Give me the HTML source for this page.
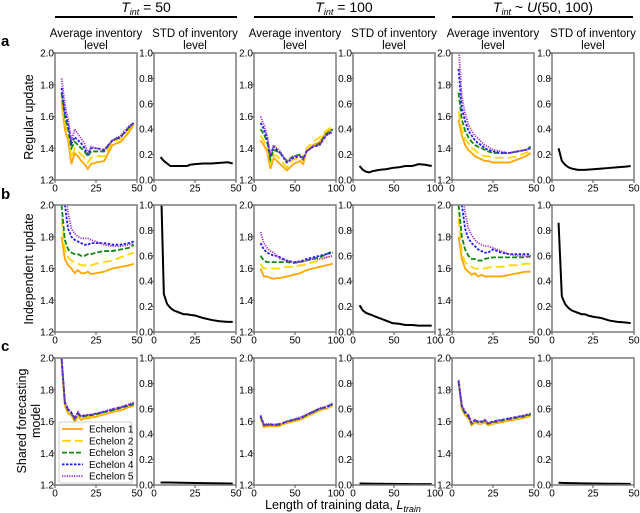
<!DOCTYPE html>
<html><head><meta charset="utf-8"><style>
body{margin:0;background:#fff;}
svg{display:block;font-family:"Liberation Sans",Arial,sans-serif;}
</style></head><body>
<svg id="fig" width="640" height="513" viewBox="0 0 640 513" xmlns="http://www.w3.org/2000/svg">
<g font-size="14" text-anchor="middle">
<text x="146" y="12"><tspan font-style="italic">T</tspan><tspan font-style="italic" font-size="9" dy="3">int</tspan><tspan dy="-3"> = 50</tspan></text>
<line x1="55" y1="17" x2="237" y2="17" stroke="#000" stroke-width="2"/>
<text x="344" y="12"><tspan font-style="italic">T</tspan><tspan font-style="italic" font-size="9" dy="3">int</tspan><tspan dy="-3"> = 100</tspan></text>
<line x1="254" y1="17" x2="435" y2="17" stroke="#000" stroke-width="2"/>
<text x="543" y="12"><tspan font-style="italic">T</tspan><tspan font-style="italic" font-size="9" dy="3">int</tspan><tspan dy="-3"> ~ </tspan><tspan font-style="italic">U</tspan><tspan>(50, 100)</tspan></text>
<line x1="452" y1="17" x2="633" y2="17" stroke="#000" stroke-width="2"/>
</g>
<g font-weight="bold" font-size="15">
<text x="1" y="46">a</text>
<text x="1" y="199">b</text>
<text x="1" y="351">c</text>
</g>
<g font-size="12.5" text-anchor="middle">
<text transform="translate(33,117) rotate(-90)">Regular update</text>
<text transform="translate(33,269) rotate(-90)">Independent update</text>
<text transform="translate(26,421) rotate(-90)">Shared forecasting</text>
<text transform="translate(40,421) rotate(-90)">model</text>
<text x="343" y="509">Length of training data, <tspan font-style="italic">L</tspan><tspan font-style="italic" font-size="9" dy="3">train</tspan></text>
</g>
<g id="panels"></g>
</svg>
<script>
const xs50 = [4,6,8,10,12,14,16,18,20,22,25,30,35,40,45,48];
const xs100 = [8,12,16,20,24,28,32,40,48,56,60,64,72,80,88,96];
const seriesNames = ["Echelon 1","Echelon 2","Echelon 3","Echelon 4","Echelon 5"];
const xTicks50 = [0,25,50];
const xTicks100 = [0,50,100];
const yTicksAvg = [1.2,1.4,1.6,1.8,2.0];
const yTicksStd = [0.0,0.2,0.4,0.6,0.8,1.0];
// Row a
const a1 = [
[1.70,1.52,1.45,1.30,1.37,1.35,1.32,1.30,1.27,1.30,1.31,1.32,1.42,1.44,1.50,1.55],
[1.73,1.56,1.49,1.34,1.40,1.38,1.36,1.34,1.31,1.34,1.35,1.35,1.44,1.46,1.52,1.56],
[1.75,1.60,1.52,1.40,1.44,1.42,1.40,1.38,1.35,1.38,1.38,1.38,1.45,1.47,1.53,1.56],
[1.78,1.63,1.55,1.43,1.47,1.45,1.43,1.40,1.36,1.40,1.40,1.39,1.45,1.47,1.53,1.56],
[1.84,1.68,1.58,1.45,1.52,1.49,1.46,1.43,1.37,1.41,1.40,1.39,1.45,1.48,1.54,1.56]];
const a2 = [0.18,0.15,0.13,0.11,0.11,0.11,0.11,0.11,0.11,0.12,0.125,0.13,0.13,0.135,0.14,0.13];
const a3 = [
[1.45,1.42,1.38,1.27,1.34,1.32,1.30,1.26,1.30,1.32,1.30,1.38,1.42,1.44,1.50,1.52],
[1.48,1.45,1.40,1.30,1.36,1.35,1.33,1.28,1.33,1.34,1.32,1.40,1.44,1.47,1.51,1.54],
[1.52,1.49,1.44,1.33,1.39,1.38,1.37,1.32,1.35,1.36,1.34,1.38,1.41,1.43,1.49,1.52],
[1.56,1.52,1.46,1.35,1.41,1.39,1.37,1.31,1.34,1.35,1.33,1.38,1.41,1.42,1.48,1.51],
[1.60,1.55,1.48,1.36,1.42,1.40,1.38,1.31,1.35,1.35,1.33,1.38,1.41,1.42,1.48,1.50]];
const a4 = [0.11,0.08,0.065,0.06,0.07,0.075,0.08,0.085,0.095,0.10,0.105,0.11,0.11,0.125,0.12,0.11];
const a5 = [
[1.58,1.48,1.42,1.39,1.37,1.35,1.34,1.33,1.32,1.32,1.31,1.31,1.31,1.33,1.35,1.37],
[1.63,1.52,1.46,1.43,1.40,1.39,1.37,1.36,1.35,1.35,1.34,1.34,1.34,1.35,1.37,1.39],
[1.75,1.58,1.51,1.47,1.44,1.42,1.41,1.40,1.39,1.38,1.37,1.37,1.37,1.38,1.39,1.41],
[1.90,1.65,1.57,1.51,1.48,1.45,1.43,1.42,1.40,1.39,1.38,1.37,1.37,1.38,1.39,1.40],
[2.05,1.72,1.62,1.55,1.51,1.48,1.46,1.44,1.42,1.41,1.39,1.38,1.37,1.38,1.39,1.40]];
const a6 = [0.25,0.15,0.12,0.10,0.09,0.085,0.08,0.08,0.08,0.082,0.085,0.09,0.095,0.10,0.105,0.11];
// Row b
const b1 = [
[1.80,1.66,1.62,1.60,1.57,1.59,1.57,1.57,1.58,1.565,1.57,1.58,1.60,1.61,1.62,1.63],
[1.92,1.72,1.67,1.65,1.64,1.63,1.62,1.62,1.62,1.62,1.63,1.64,1.65,1.67,1.69,1.70],
[2.00,1.78,1.72,1.70,1.69,1.69,1.68,1.68,1.69,1.69,1.70,1.71,1.71,1.72,1.73,1.75],
[2.10,2.00,1.85,1.80,1.78,1.77,1.76,1.75,1.75,1.76,1.76,1.76,1.75,1.75,1.76,1.77],
[2.20,2.10,1.95,1.85,1.82,1.80,1.79,1.79,1.79,1.78,1.77,1.75,1.74,1.74,1.75,1.76]];
const b2 = [1.30,0.30,0.22,0.19,0.17,0.16,0.15,0.14,0.14,0.135,0.13,0.11,0.095,0.085,0.08,0.08];
const b3 = [
[1.60,1.55,1.55,1.54,1.535,1.54,1.54,1.55,1.56,1.57,1.58,1.59,1.60,1.61,1.62,1.63],
[1.63,1.60,1.60,1.60,1.60,1.60,1.60,1.61,1.61,1.62,1.62,1.63,1.64,1.65,1.67,1.68],
[1.68,1.65,1.64,1.64,1.64,1.64,1.64,1.64,1.635,1.64,1.645,1.65,1.66,1.67,1.69,1.71],
[1.76,1.72,1.70,1.69,1.68,1.68,1.67,1.65,1.64,1.645,1.65,1.66,1.67,1.68,1.69,1.70],
[1.83,1.76,1.73,1.71,1.70,1.68,1.66,1.65,1.64,1.64,1.645,1.65,1.66,1.66,1.67,1.68]];
const b4 = [0.21,0.17,0.15,0.14,0.13,0.12,0.11,0.09,0.07,0.065,0.06,0.055,0.055,0.05,0.05,0.05];
const b5 = [
[1.80,1.66,1.60,1.58,1.56,1.57,1.55,1.56,1.55,1.55,1.55,1.55,1.56,1.57,1.58,1.58],
[1.92,1.70,1.64,1.62,1.61,1.60,1.60,1.60,1.60,1.605,1.61,1.61,1.62,1.62,1.63,1.63],
[2.00,1.80,1.72,1.68,1.66,1.66,1.65,1.65,1.66,1.665,1.67,1.67,1.67,1.67,1.67,1.68],
[2.10,2.00,1.85,1.79,1.76,1.74,1.72,1.71,1.70,1.70,1.72,1.70,1.69,1.69,1.69,1.69],
[2.20,2.10,1.95,1.85,1.81,1.78,1.76,1.75,1.74,1.74,1.73,1.71,1.69,1.68,1.68,1.67]];
const b6 = [0.86,0.28,0.22,0.19,0.17,0.16,0.15,0.14,0.14,0.13,0.12,0.11,0.09,0.08,0.075,0.07];
// Row c
const c1 = [
[1.98,1.70,1.65,1.64,1.60,1.63,1.61,1.62,1.62,1.625,1.63,1.645,1.66,1.67,1.69,1.70],
[1.99,1.71,1.66,1.645,1.61,1.64,1.62,1.63,1.63,1.63,1.64,1.65,1.665,1.68,1.70,1.71],
[2.00,1.72,1.67,1.65,1.615,1.65,1.625,1.635,1.635,1.64,1.645,1.66,1.67,1.685,1.70,1.71],
[2.00,1.72,1.675,1.655,1.62,1.655,1.63,1.64,1.64,1.64,1.65,1.66,1.675,1.69,1.705,1.715],
[2.00,1.73,1.68,1.66,1.62,1.66,1.63,1.64,1.64,1.645,1.65,1.665,1.68,1.69,1.71,1.72]];
const c2 = [0.02,0.02,0.02,0.02,0.019,0.019,0.018,0.018,0.017,0.017,0.016,0.015,0.014,0.013,0.012,0.011];
const c3 = [
[1.62,1.565,1.57,1.57,1.57,1.57,1.575,1.59,1.60,1.61,1.62,1.63,1.65,1.67,1.68,1.70],
[1.625,1.57,1.575,1.575,1.575,1.575,1.58,1.595,1.605,1.615,1.625,1.635,1.655,1.675,1.685,1.705],
[1.63,1.575,1.58,1.58,1.58,1.58,1.58,1.60,1.61,1.62,1.63,1.64,1.66,1.68,1.69,1.71],
[1.635,1.58,1.58,1.58,1.58,1.58,1.585,1.60,1.61,1.62,1.63,1.64,1.66,1.68,1.69,1.71],
[1.64,1.58,1.585,1.585,1.58,1.585,1.585,1.60,1.615,1.625,1.635,1.645,1.665,1.685,1.695,1.715]];
const c4 = [0.012,0.012,0.011,0.011,0.010,0.010,0.010,0.009,0.009,0.008,0.008,0.008,0.007,0.007,0.007,0.007];
const c5 = [
[1.84,1.68,1.64,1.62,1.575,1.595,1.585,1.585,1.595,1.575,1.585,1.595,1.605,1.615,1.625,1.635],
[1.85,1.69,1.65,1.63,1.58,1.60,1.59,1.59,1.60,1.58,1.59,1.60,1.61,1.62,1.63,1.64],
[1.85,1.69,1.65,1.63,1.585,1.605,1.595,1.595,1.605,1.585,1.595,1.605,1.615,1.625,1.635,1.645],
[1.86,1.70,1.66,1.64,1.59,1.61,1.60,1.60,1.61,1.59,1.60,1.61,1.62,1.63,1.64,1.65],
[1.86,1.70,1.66,1.64,1.59,1.61,1.60,1.60,1.61,1.59,1.60,1.61,1.62,1.63,1.64,1.65]];
const c6 = [0.018,0.017,0.016,0.015,0.015,0.014,0.014,0.013,0.013,0.012,0.012,0.011,0.010,0.010,0.009,0.009];

const NS = "http://www.w3.org/2000/svg";
const colors = ["#FFA500","#FFD700","#118811","#1A1AFF","#9B30C8"];
const dashes = ["","9,4","5,2","2.5,1.5","1.2,1.2"];
const colX = [55,154,254,353,452,552];
const rowY = [53,205,358];
const PW = 82, PH = 127;
const root = document.getElementById('panels');
function mk(tag, attrs, parent){const e=document.createElementNS(NS,tag);for(const k in attrs)e.setAttribute(k,attrs[k]);(parent||root).appendChild(e);return e;}

function panel(ci, ri, xs, xmax, xt, yt, ymin, ymax, data, isStd, name){
  const x0=colX[ci], y0=rowY[ri];
  const g=mk('g',{});
  
  
  const sx=v=>x0+v/xmax*PW, sy=v=>y0+PH-(v-ymin)/(ymax-ymin)*PH;
  const cid='clip'+ci+ri;
  const cp=mk('clipPath',{id:cid},g); mk('rect',{x:x0,y:y0,width:PW,height:PH},cp);
  const series = isStd ? [data] : data;
  series.forEach((s,i)=>{
    const d=s.map((v,j)=>(j?'L':'M')+sx(xs[j]).toFixed(2)+','+sy(v).toFixed(2)).join('');
    const p=mk('path',{d:d,fill:'none','clip-path':'url(#'+cid+')'},g);
    if(isStd){p.setAttribute('stroke','#000');p.setAttribute('stroke-width','2');}
    else{p.setAttribute('stroke',colors[i]);p.setAttribute('stroke-width','1.8');if(dashes[i])p.setAttribute('stroke-dasharray',dashes[i]);}
    
    
  });
  const fr=mk('rect',{x:x0,y:y0,width:PW,height:PH,fill:'none',stroke:'#7a7a7a','stroke-width':'1.5'},g);
  
  
  xt.forEach(v=>{
    const X=sx(v);
    mk('line',{x1:X,y1:y0+PH,x2:X,y2:y0+PH+3,stroke:'#555'},g);
    const t=mk('text',{x:X,y:y0+PH+11.5,'font-size':'10','text-anchor':'middle'},g);
    t.textContent=v;
    
    
  });
  yt.forEach(v=>{
    const Y=sy(v);
    mk('line',{x1:x0-2,y1:Y,x2:x0,y2:Y,stroke:'#555'},g);
    const t=mk('text',{x:x0-1,y:Y+3.5,'font-size':'10','text-anchor':'end'},g);
    t.textContent=v.toFixed(1);
    
    
  });
  if(ri===0){
    const l1=mk('text',{x:x0+PW/2,y:37,'font-size':'11.5','text-anchor':'middle'},g);
    l1.textContent = isStd ? 'STD of inventory' : 'Average inventory';
    
    
    const l2=mk('text',{x:x0+PW/2,y:49,'font-size':'11.5','text-anchor':'middle'},g);
    l2.textContent='level';
    
    
  }
}
const rows=[[a1,a2,a3,a4,a5,a6],[b1,b2,b3,b4,b5,b6],[c1,c2,c3,c4,c5,c6]];
const rowNames=['regular','independent','shared'];
rows.forEach((r,ri)=>{
  r.forEach((d,ci)=>{
    const grp=Math.floor(ci/2), isStd=ci%2===1;
    const is100 = grp===1;
    panel(ci,ri,is100?xs100:xs50,is100?100:50,is100?xTicks100:xTicks50,isStd?yTicksStd:yTicksAvg,isStd?0:1.2,isStd?1:2.0,d,isStd,rowNames[ri]+'-'+(isStd?'std':'avg')+'-panel-'+(grp+1));
  });
});
// legend
const lg=mk('g',{});


mk('rect',{x:59,y:422,width:73,height:61,fill:'#fff',stroke:'#ccc','stroke-width':'1',rx:'2'},lg);
seriesNames.forEach((n,i)=>{
  const y=429+i*11.8;
  const l=mk('line',{x1:62,y1:y,x2:83,y2:y,stroke:colors[i],'stroke-width':'1.8'},lg);
  if(dashes[i])l.setAttribute('stroke-dasharray',dashes[i]);
  const t=mk('text',{x:89,y:y+3.5,'font-size':'10'},lg);
  t.textContent=n;
  
  
});
</script>
</body></html>
